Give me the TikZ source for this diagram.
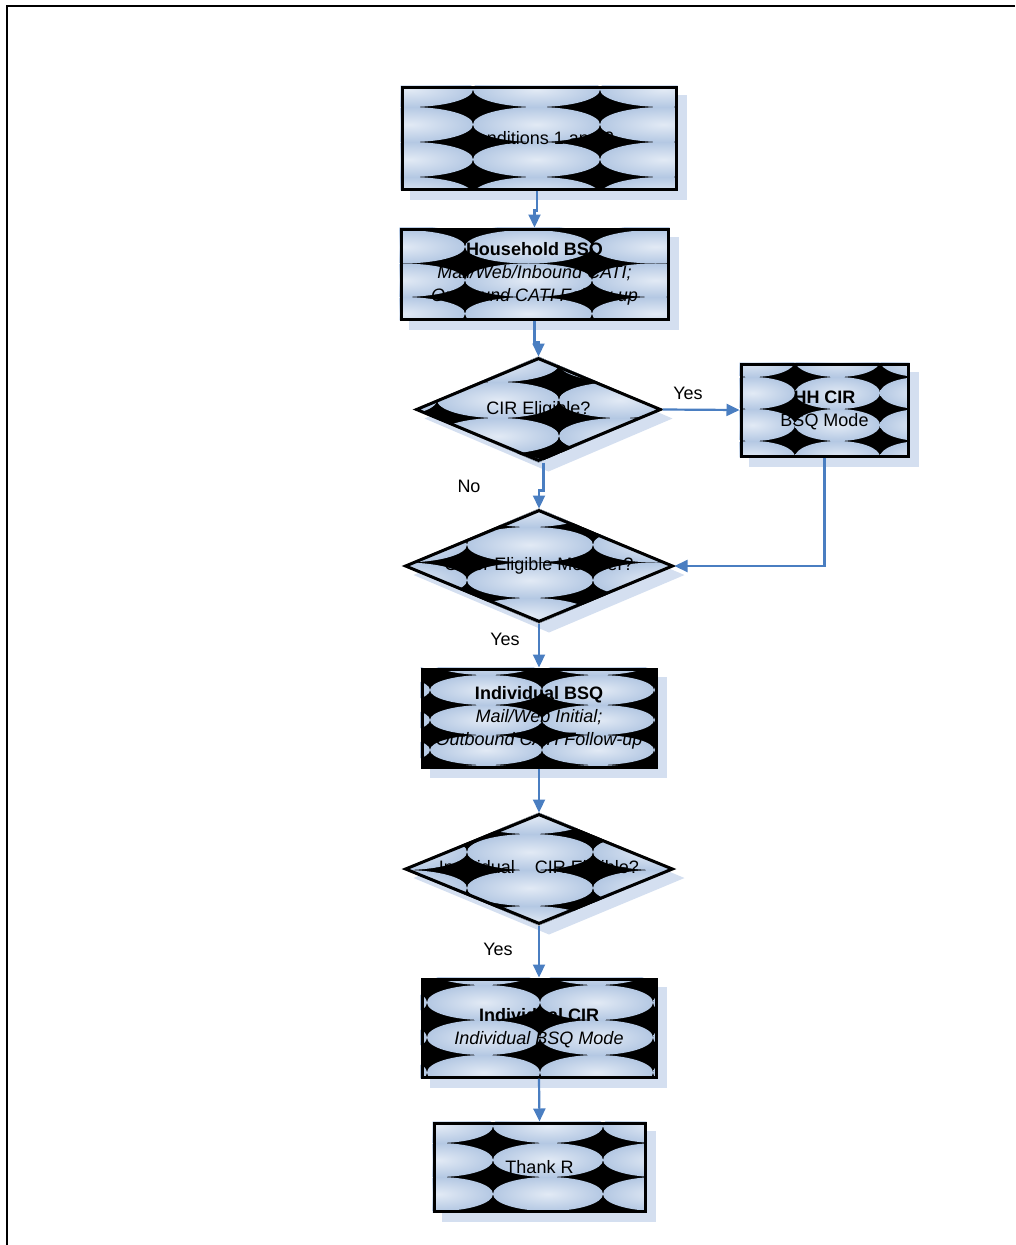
\documentclass[tikz,border=0pt]{standalone}
\usepackage{fontspec}
\setmainfont{Liberation Sans}
\usetikzlibrary{shapes.geometric,arrows.meta}
\pgfdeclarelayer{background}
\pgfsetlayers{background,main}
\definecolor{tilein}{RGB}{226,234,245}
\definecolor{tileout}{RGB}{180,200,227}
\definecolor{shadowc}{RGB}{212,223,240}
\definecolor{connc}{RGB}{74,126,193}
\tikzset{
 rectbox/.style={draw=black, line width=3pt, rectangle, inner sep=0pt},
 diabox/.style={draw=black, line width=3pt, diamond, inner sep=0pt},
 txt/.style={font=\fontsize{18}{23}\selectfont, align=center, inner sep=0pt, text=black},
 lbl/.style={font=\fontsize{18}{23}\selectfont, inner sep=0pt},
 conn/.style={draw=connc, line width=2.2pt, -{Triangle[length=13pt,width=12pt]}},
 tileshade/.style={shading=radial, inner color=tilein, outer color=tileout},
}
\newcommand\mytiles[4]{%
 \foreach \i in {0,...,3}{\foreach \j in {0,...,4}{
   \shade[tileshade] ({#1+(\i+0.5)*#3},{#2+(\j+0.5)*#4}) ellipse[x radius={#3/2*1pt}, y radius={#4/2*1pt}];
 }}}
\newcommand\rectpat[5]{%
 \begin{pgfonlayer}{background}
  \fill[shadowc] ([shift={(9,9)}]#1.north west) rectangle ([shift={(9,9)}]#1.south east);
  \begin{scope}
   \clip (#1.north west) rectangle (#1.south east);
   \fill[black] (#1.north west) rectangle (#1.south east);
   \mytiles{#2}{#3}{#4}{#5}
  \end{scope}
 \end{pgfonlayer}}
\newcommand\diapat[5]{%
 \begin{pgfonlayer}{background}
  \fill[shadowc] ([shift={(10,9)}]#1.north) -- ([shift={(10,9)}]#1.east) -- ([shift={(10,9)}]#1.south) -- ([shift={(10,9)}]#1.west) -- cycle;
  \begin{scope}
   \clip (#1.north) -- (#1.east) -- (#1.south) -- (#1.west) -- cycle;
   \fill[black] (#1.north) -- (#1.east) -- (#1.south) -- (#1.west) -- cycle;
   \mytiles{#2}{#3}{#4}{#5}
  \end{scope}
 \end{pgfonlayer}}
\begin{document}
\begin{tikzpicture}[x=1pt,y=-1pt]
\useasboundingbox (0,0) rectangle (1015,1245);
\draw[line width=2pt] (7,1245) -- (7,6) -- (1015,6);

% shapes
\node[rectbox, minimum width=274pt, minimum height=102pt] (n1) at (539,138) {};
\rectpat{n1}{346}{72}{127}{35}
\node[rectbox, minimum width=267pt, minimum height=90pt] (n2) at (534.5,274) {};
\rectpat{n2}{338}{196.5}{127}{33.5}
\node[diabox, minimum width=245pt, minimum height=103pt] (d3) at (538.5,409.5) {};
\diapat{d3}{315}{346}{122}{36}
\node[rectbox, minimum width=167pt, minimum height=92pt] (hh) at (824.5,410) {};
\rectpat{hh}{710}{345}{85}{32}
\node[diabox, minimum width=268pt, minimum height=112pt] (d5) at (539,566) {};
\diapat{d5}{341}{491.5}{126}{35.5}
\node[rectbox, minimum width=234pt, minimum height=98pt] (ib) at (539,718) {};
\rectpat{ib}{318}{645}{112}{30}
\node[diabox, minimum width=268pt, minimum height=110pt] (d7) at (539,869) {};
\diapat{d7}{341}{798}{126}{36}
\node[rectbox, minimum width=234pt, minimum height=98pt] (ic) at (539,1028) {};
\rectpat{ic}{314}{950}{113}{35}
\node[rectbox, minimum width=211pt, minimum height=88pt] (tr) at (539.5,1167) {};
\rectpat{tr}{383}{1109}{110}{34}

% texts
\node[txt] (t1) at (n1) {Conditions 1 and 2};
\node[txt] (t2) at (n2) {\textbf{Household BSQ}\\\textit{Mail/Web/Inbound CATI;}\\\textit{Outbound CATI Follow-up}};
\node[txt] (t3) at (d3) {CIR Eligible?};
\node[txt] (t4) at (hh) {\textbf{HH CIR}\\BSQ Mode};
\node[txt] (t5) at (d5) {Other Eligible Member?};
\node[txt] (t6) at (ib) {\textbf{Individual BSQ}\\\textit{Mail/Web Initial;}\\\textit{Outbound CATI Follow-up}};
\node[txt] (t7) at (d7) {Individual\hspace{20pt}CIR Eligible?};
\node[txt] (t8) at (ic) {\textbf{Individual CIR}\\\textit{Individual BSQ Mode}};
\node[txt] (t9) at (tr) {Thank R};

% connectors
\draw[conn] ([xshift=-2pt]n1.south) -- ++(0,20) -| (n2.north);
\draw[conn] (n2.south) -- ++(0,22) -| (d3.north);
\draw[conn] (d3.east) -- (hh.west);
\draw[conn] ([xshift=5pt]d3.south) -- ++(0,28) -| (d5.north);
\draw[conn] (hh.south) |- (d5.east);
\draw[conn] (d5.south) -- (ib.north);
\draw[conn] (ib.south) -- (d7.north);
\draw[conn] (d7.south) -- (ic.north);
\draw[conn] (ic.south) -- (tr.north);

% labels
\node[lbl] (yes1) at (688,393) {Yes};
\node[lbl] (no1) at (469,486) {No};
\node[lbl] (yes2) at (505,639) {Yes};
\node[lbl] (yes3) at (498,949) {Yes};
\end{tikzpicture}
\end{document}
